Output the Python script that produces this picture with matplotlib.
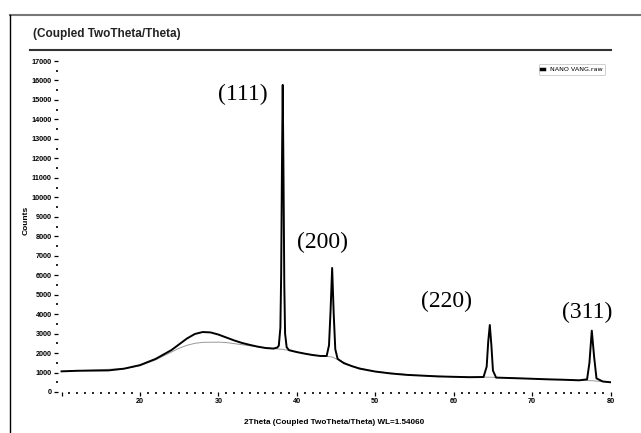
import numpy as np
import matplotlib
matplotlib.use("Agg")
import matplotlib.pyplot as plt
from matplotlib.lines import Line2D
from matplotlib.ticker import MultipleLocator

# XRD scan (2theta in degrees, counts)
two_theta = [10.0, 12, 14, 16, 18, 20, 22, 24, 25, 26, 27, 28, 29, 30, 31, 32, 33, 34,
             35, 36, 37, 37.5, 37.7, 37.9, 38.0, 38.1, 38.2, 38.3, 38.4, 38.5, 38.7,
             39, 40, 41, 42, 43, 43.8, 44.1, 44.3, 44.5, 44.7, 44.9, 45.2, 46, 47, 48,
             50, 52, 54, 56, 58, 60, 62, 63.8, 64.2, 64.4, 64.6, 64.8, 65.0, 65.4,
             67, 70, 72, 74, 76, 77.0, 77.3, 77.6, 77.9, 78.2, 79, 80]
counts = [1060, 1090, 1100, 1110, 1200, 1380, 1700, 2150, 2450, 2750, 2980, 3080, 3060,
          2950, 2800, 2650, 2520, 2420, 2330, 2260, 2230, 2280, 2380, 3300, 6000, 11500,
          15770, 11000, 5500, 3000, 2300, 2150, 2050, 1970, 1900, 1850, 1850, 2400, 4200,
          6370, 4000, 2200, 1700, 1480, 1330, 1200, 1050, 950, 880, 840, 800, 780, 760,
          770, 1300, 2600, 3440, 2400, 1100, 740, 720, 680, 650, 630, 600, 650, 1500,
          3150, 1800, 700, 540, 500]

# fitted background (thin grey line)
bg_theta = [10.0, 18, 20, 22, 24, 25, 26, 27, 28, 30, 31, 33, 35, 37, 38.2, 40, 42,
            44.5, 47, 50, 55, 60, 64.6, 70, 77.6, 80]
bg_counts = [1060, 1200, 1350, 1650, 2050, 2250, 2400, 2500, 2550, 2560, 2540, 2430,
             2320, 2230, 2190, 2050, 1900, 1800, 1330, 1050, 860, 780, 760, 680, 580, 500]

peak_labels = ["(111)", "(200)", "(220)", "(311)"]
label_x = [33.1, 43.3, 59.1, 77.0]
label_y = [15300, 7700, 4670, 4060]

fig = plt.figure(figsize=(6.41, 4.33), dpi=100)
fig.patch.set_facecolor("white")

# outer frame bits
fig.add_artist(Line2D([10/641, 1.0], [1 - 15/433] * 2, color="#777777", lw=1.5))
fig.add_artist(Line2D([10/641] * 2, [0, 1 - 15/433], color="black", lw=1.0))
fig.add_artist(Line2D([30/641, 611/641], [1 - 50/433] * 2, color="#333333", lw=1.5))
fig.text(33/641, 1 - 34/433, "(Coupled TwoTheta/Theta)", fontsize=8.5,
         family="Liberation Sans", fontweight="bold", va="center", ha="left",
         color="#222222")

ax = fig.add_axes([58/641, 1 - 392/433, (611 - 58)/641, (392 - 61)/433])
ax.plot(bg_theta, bg_counts, color="#999999", lw=0.7, zorder=1)
ax.plot(two_theta, counts, color="black", lw=1.4, zorder=2, label="NANO VANG.raw")

ax.set_xlim(9.55, 80.05)
ax.set_ylim(0, 17000)
for s in ax.spines.values():
    s.set_visible(False)

ax.xaxis.set_major_locator(MultipleLocator(10))
ax.xaxis.set_minor_locator(MultipleLocator(1))
ax.yaxis.set_major_locator(MultipleLocator(1000))
ax.yaxis.set_minor_locator(MultipleLocator(500))
ax.xaxis.set_major_formatter(lambda v, p: "%d" % v if v >= 20 else "")
ax.yaxis.set_major_formatter(lambda v, p: "%d" % v)
ax.tick_params(which="major", length=3, width=0.9, labelsize=5.2, pad=1.5, colors="black")
ax.tick_params(which="minor", length=1.2, width=1.2)
for lab in ax.get_xticklabels() + ax.get_yticklabels():
    lab.set_family("Liberation Sans")
    lab.set_fontweight("bold")

ax.set_xlabel("2Theta (Coupled TwoTheta/Theta) WL=1.54060", fontsize=5.9,
              family="Liberation Sans", fontweight="bold", labelpad=10)
ax.set_ylabel("Counts", fontsize=6, family="Liberation Sans", fontweight="bold")
ax.yaxis.set_label_coords(-0.052, 0.52)

for t, x, y in zip(peak_labels, label_x, label_y):
    ax.text(x, y, t, fontsize=17, family="Liberation Serif", ha="center", va="center")

leg = ax.legend(loc="upper right", fontsize=4.6, handlelength=0.4, frameon=True,
                borderpad=0.4, handletextpad=0.9, bbox_to_anchor=(0.995, 1.0))
leg.get_frame().set_linewidth(0.4)
leg.get_frame().set_edgecolor("#999999")
leg.get_lines()[0].set_linewidth(2.5)

fig.savefig("out.png", dpi=100)
